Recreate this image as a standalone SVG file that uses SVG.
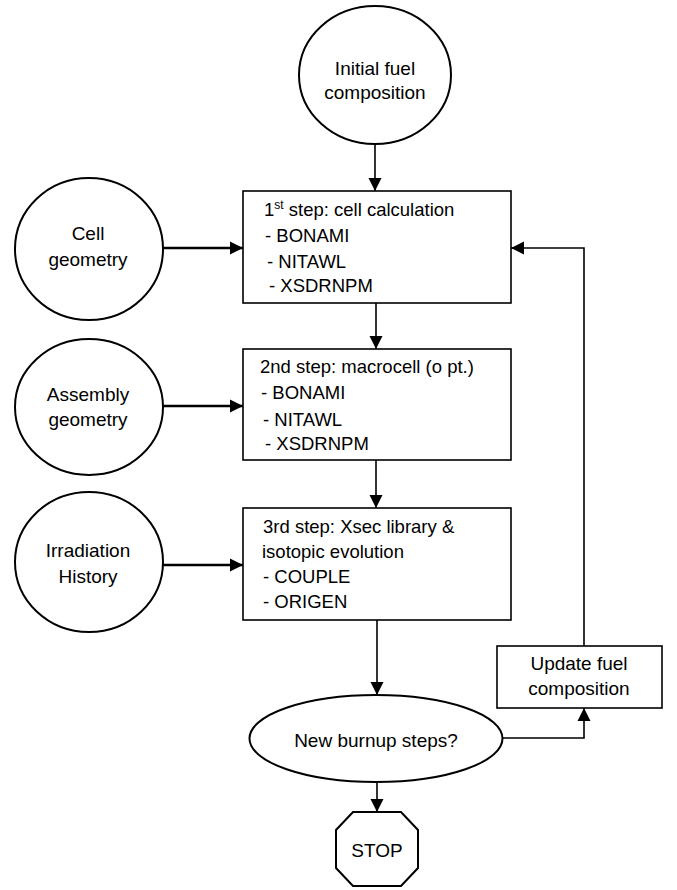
<svg xmlns="http://www.w3.org/2000/svg" width="677" height="890" viewBox="0 0 677 890">
<style>
  .shape { fill: #fff; stroke: #000; stroke-width: 2; }
  .box { fill: #fff; stroke: #000; stroke-width: 1.6; }
  .t { font-family: "Liberation Sans", Arial, sans-serif; font-size: 18.5px; fill: #000; }
  .c { text-anchor: middle; font-size: 19px; }
  .conn { fill: none; stroke: #000; stroke-width: 1.6; }
  .thick { stroke-width: 2.4; }
</style>
<defs>
  <marker id="arr" markerUnits="userSpaceOnUse" markerWidth="14" markerHeight="14" refX="13" refY="7" orient="auto">
    <path d="M0,0.5 L13,7 L0,13.5 z" fill="#000"/>
  </marker>
</defs>
<rect width="677" height="890" fill="#fff"/>

<g id="connectors">
  <path class="conn" d="M375,144 L375,191" marker-end="url(#arr)"/>
  <path class="conn thick" d="M163,248 L243,248" marker-end="url(#arr)"/>
  <path class="conn" d="M376,303 L376,349" marker-end="url(#arr)"/>
  <path class="conn thick" d="M163,406 L243,406" marker-end="url(#arr)"/>
  <path class="conn" d="M376,460 L376,508" marker-end="url(#arr)"/>
  <path class="conn thick" d="M163,565 L243,565" marker-end="url(#arr)"/>
  <path class="conn" d="M377,620 L377,695" marker-end="url(#arr)"/>
  <path class="conn" d="M377,782 L377,812" marker-end="url(#arr)"/>
  <path class="conn" d="M502,738 L584,738 L584,708" marker-end="url(#arr)"/>
  <path class="conn" d="M584,646 L584,248 L511,248" marker-end="url(#arr)"/>
</g>

<g id="initial-fuel">
  <ellipse class="shape" cx="375" cy="75" rx="76" ry="69"/>
  <text class="t c" x="375" y="75" font-size="20">Initial fuel</text>
  <text class="t c" x="375" y="99" font-size="20">composition</text>
</g>

<g id="cell-geometry">
  <ellipse class="shape" cx="89" cy="249" rx="74" ry="71"/>
  <text class="t c" x="88" y="240">Cell</text>
  <text class="t c" x="88" y="266">geometry</text>
</g>

<g id="assembly-geometry">
  <ellipse class="shape" cx="89" cy="407" rx="74" ry="68"/>
  <text class="t c" x="88" y="401">Assembly</text>
  <text class="t c" x="88" y="426">geometry</text>
</g>

<g id="irradiation-history">
  <ellipse class="shape" cx="89" cy="562" rx="74" ry="70"/>
  <text class="t c" x="88" y="557">Irradiation</text>
  <text class="t c" x="88" y="583">History</text>
</g>

<g id="step1">
  <rect class="box" x="243" y="191" width="268" height="112"/>
  <text class="t" x="264" y="216">1<tspan dy="-7" font-size="12">st</tspan><tspan dy="7"> step: cell calculation</tspan></text>
  <text class="t" x="265" y="242">- BONAMI</text>
  <text class="t" x="267" y="268">- NITAWL</text>
  <text class="t" x="269" y="292">- XSDRNPM</text>
</g>

<g id="step2">
  <rect class="box" x="243" y="349" width="268" height="111"/>
  <text class="t" x="260" y="373">2nd step: macrocell (o pt.)</text>
  <text class="t" x="261" y="399">- BONAMI</text>
  <text class="t" x="263" y="426">- NITAWL</text>
  <text class="t" x="265" y="450">- XSDRNPM</text>
</g>

<g id="step3">
  <rect class="box" x="243" y="508" width="268" height="112"/>
  <text class="t" x="263" y="533">3rd step: Xsec library &amp;</text>
  <text class="t" x="262" y="558">isotopic evolution</text>
  <text class="t" x="263" y="583">- COUPLE</text>
  <text class="t" x="263" y="608">- ORIGEN</text>
</g>

<g id="update-fuel">
  <rect class="box" x="497" y="646" width="165" height="62"/>
  <text class="t c" x="579" y="670" font-size="18.5">Update fuel</text>
  <text class="t c" x="579" y="695" font-size="18.5">composition</text>
</g>

<g id="new-burnup">
  <ellipse class="shape" cx="376" cy="738.5" rx="126.5" ry="43.5" stroke-width="2.4"/>
  <text class="t c" x="376" y="747" font-size="18.5">New burnup steps?</text>
</g>

<g id="stop">
  <polygon class="shape" points="353,812 401,812 418,830 418,868 401,886 353,886 336,868 336,830" stroke-width="3"/>
  <text class="t c" x="377" y="857" font-size="18.5">STOP</text>
</g>
</svg>
